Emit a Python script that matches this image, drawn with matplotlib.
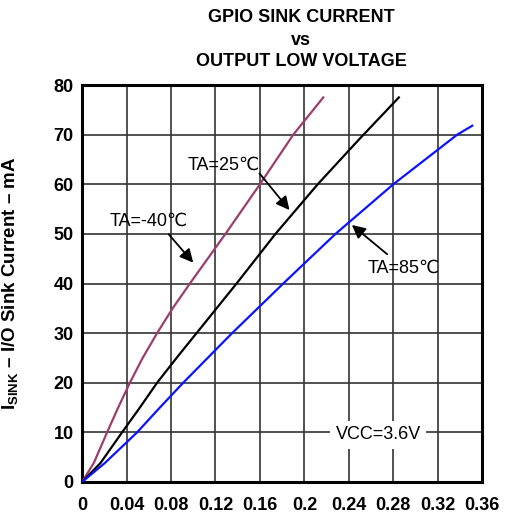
import numpy as np
import matplotlib
matplotlib.use("Agg")
import matplotlib.pyplot as plt

plt.rcParams['font.family'] = ['Liberation Sans', 'DejaVu Sans']
plt.rcParams['mathtext.fontset'] = 'custom'
plt.rcParams['mathtext.rm'] = 'Liberation Sans'
plt.rcParams['mathtext.bf'] = 'Liberation Sans:bold'

# curves (V_OL in V, I_SINK in mA)
v_m40 = [0, 0.0105, 0.0225, 0.0325, 0.043, 0.0545, 0.0675, 0.0815, 0.097, 0.113, 0.129, 0.1445, 0.160, 0.175, 0.190, 0.217]
i_m40 = [0, 3.8, 10, 15, 20, 25, 30, 35, 40, 45, 50, 55, 60, 65, 70, 77.5]

v_25 = [0, 0.0165, 0.036, 0.052, 0.0675, 0.085, 0.103, 0.139, 0.174, 0.212, 0.249, 0.285]
i_25 = [0, 3.8, 10, 15, 20, 25, 30, 40, 50, 60, 69, 77.5]

v_85 = [0, 0.0204, 0.0495, 0.070, 0.091, 0.135, 0.181, 0.228, 0.280, 0.3375, 0.351]
i_85 = [0, 3.8, 10, 15, 20, 30, 40, 50, 60, 70, 71.8]

x_ticks = [0, 0.04, 0.08, 0.12, 0.16, 0.2, 0.24, 0.28, 0.32, 0.36]
x_labels = ['0', '0.04', '0.08', '0.12', '0.16', '0.2', '0.24', '0.28', '0.32', '0.36']
y_ticks = [0, 10, 20, 30, 40, 50, 60, 70, 80]

fig = plt.figure(figsize=(5.13, 5.25), dpi=100)
ax = fig.add_axes([0.16, 0.082, 0.78, 0.756])

ax.plot(v_m40, i_m40, color='#9c3d6e', lw=1.6, zorder=3)
ax.plot(v_25, i_25, color='black', lw=1.6, zorder=3)
ax.plot(v_85, i_85, color='#0a14ff', lw=1.6, zorder=3)

ax.set_xlim(0, 0.36)
ax.set_ylim(0, 80)
ax.set_xticks(x_ticks)
ax.set_xticklabels(x_labels)
ax.set_yticks(y_ticks)
ax.tick_params(length=0, labelsize=13)
ax.tick_params(axis='x', pad=11)
ax.tick_params(axis='y', pad=6)
for lab in ax.get_xticklabels() + ax.get_yticklabels():
    lab.set_fontweight('bold')
ax.grid(True, color='#333333', lw=1.2)
ax.set_axisbelow(True)
for sp in ax.spines.values():
    sp.set_linewidth(2.2)

ax.set_ylabel(r'$\mathbf{I_{SINK}}$ – I/O Sink Current – mA', fontsize=13.5, fontweight='bold')
ax.yaxis.set_label_coords(-0.155, 0.5)

# annotations
txt_kw = dict(fontsize=13, ha='center', va='center', zorder=5)
arr = dict(arrowstyle='-|>', color='black', lw=1.3, mutation_scale=20, shrinkA=0, shrinkB=0)
ax.text(0.1274, 63.8, 'TA=25℃', **txt_kw)
ax.annotate('', xy=(0.1866, 54.8), xytext=(0.1596, 62.2), arrowprops=arr)
ax.text(0.0599, 52.5, 'TA=-40℃', **txt_kw)
ax.annotate('', xy=(0.100, 44.2), xytext=(0.078, 49.9), arrowprops=arr)
ax.text(0.289, 43.1, 'TA=85℃', **txt_kw)
ax.annotate('', xy=(0.2427, 51.8), xytext=(0.2745, 45.9), arrowprops=arr)
ax.text(0.2664, 9.5, 'VCC=3.6V',
        bbox=dict(facecolor='white', edgecolor='none', pad=4), **txt_kw)

# title, off-centre to the right as in the original
title_lines = ['GPIO SINK CURRENT', 'vs', 'OUTPUT LOW VOLTAGE']
for yy, t in zip([0.9676, 0.9238, 0.8838], title_lines):
    fig.text(0.587, yy, t, fontsize=13, fontweight='bold', ha='center', va='center')

fig.savefig('out.png', dpi=100)
